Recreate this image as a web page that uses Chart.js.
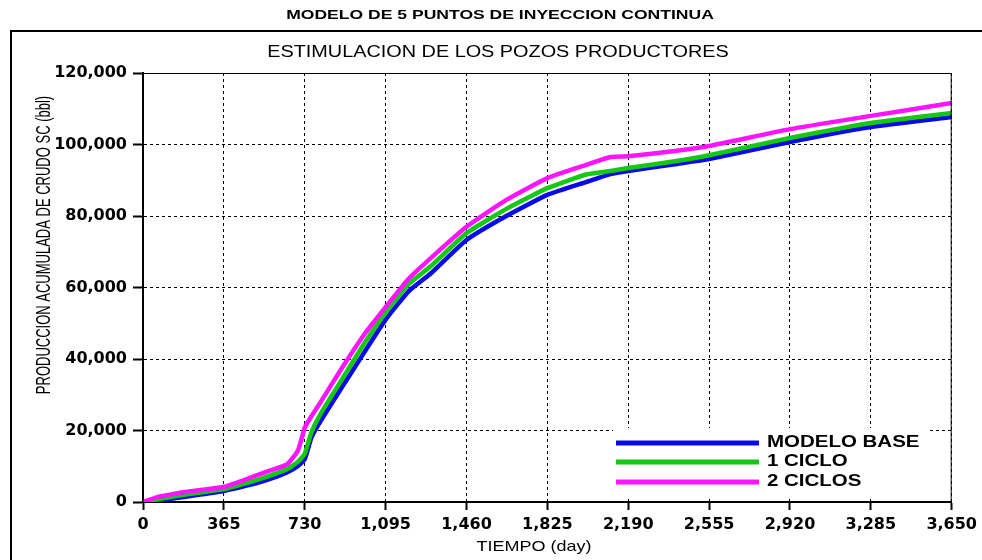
<!DOCTYPE html>
<html>
<head>
<meta charset="utf-8">
<script src="https://cdn.jsdelivr.net/npm/chart.js@4"></script>
<style>
    html, body { margin: 0; padding: 0; background: #fff; }
    #wrap { width: 982px; height: 560px; }
</style>
</head>
<body>
<div id="wrap"><canvas id="cumChart" width="982" height="560"></canvas></div>
<script>
// tiempo (day) en los que se leyeron los valores
const days = [0, 60, 150, 250, 365, 450, 550, 650, 700, 730, 760, 800, 900, 1000, 1095,
    1200, 1300, 1460, 1640, 1825, 2000, 2110, 2190, 2400, 2555, 2920, 3285, 3650];

// produccion acumulada de crudo (bbl)
const modeloBase = [0, 300, 1100, 2000, 3100, 4300, 6000, 8300, 10100, 12000, 18000, 22500, 32300, 42000, 51000,
    59000, 64000, 73300, 80000, 85900, 89500, 91700, 92600, 94500, 95900, 100700, 104900, 107700];
const unCiclo = [0, 700, 1700, 2600, 3600, 5000, 6900, 9200, 11300, 13500, 19500, 24500, 34500, 44500, 53000,
    61000, 66000, 75200, 82000, 87800, 91600, 92600, 93400, 95300, 97000, 101800, 106000, 108800];
const dosCiclos = [0, 1300, 2400, 3300, 4200, 6000, 8300, 10500, 14500, 20800, 24000, 27800, 37700, 47000, 54500,
    62500, 68300, 77000, 84500, 90600, 94300, 96500, 96700, 98200, 99600, 104300, 108000, 111600];

const seriesNames = ['MODELO BASE', '1 CICLO', '2 CICLOS'];
const seriesColors = ['#0a0ae6', '#14c814', '#ff14ff'];

const toPoints = (vals) => days.map((d, i) => ({ x: d, y: vals[i] }));

// textos dibujados a mano (estirados como en el original)
function stretchedText(ctx, txt, x, y, font, sx, align, rotate) {
    ctx.save();
    ctx.translate(x, y);
    ctx.scale(sx, 1);
    if (rotate) ctx.rotate(-Math.PI / 2);
    ctx.font = font;
    ctx.fillStyle = '#000';
    ctx.textAlign = align || 'center';
    ctx.textBaseline = 'middle';
    ctx.fillText(txt, 0, 0);
    ctx.restore();
}

const decorPlugin = {
    id: 'decor',
    afterDraw(chart) {
        const ctx = chart.ctx;
        const area = chart.chartArea;

        // marco exterior
        ctx.save();
        ctx.strokeStyle = '#000';
        ctx.lineWidth = 2;
        ctx.strokeRect(11, 31, 1000, 600);
        // borde del area de grafico
        ctx.lineWidth = 1;
        ctx.strokeRect(area.left, area.top + 0.5, area.right - area.left - 0.5, area.bottom - area.top);
        ctx.restore();

        stretchedText(ctx, 'MODELO DE 5 PUNTOS DE INYECCION CONTINUA', 500, 15, 'bold 13px "Liberation Sans", Arial', 1.35);
        stretchedText(ctx, 'ESTIMULACION DE LOS POZOS PRODUCTORES', 498, 53, '16px "Liberation Sans", Arial', 1.24);
        stretchedText(ctx, 'TIEMPO (day)', 534, 547, '15px "Liberation Sans", Arial', 1.2);
        stretchedText(ctx, 'PRODUCCION ACUMULADA DE CRUDO SC (bbl)', 44, 245, '13px "Liberation Sans", Arial', 1.6, 'center', true);

        // leyenda
        ctx.save();
        ctx.fillStyle = '#fff';
        ctx.fillRect(613, 428, 315, 68);
        const rows = [443, 462, 482];
        rows.forEach((ry, i) => {
            ctx.strokeStyle = seriesColors[i];
            ctx.lineWidth = 5;
            ctx.beginPath();
            ctx.moveTo(616, ry);
            ctx.lineTo(759, ry);
            ctx.stroke();
            stretchedText(ctx, seriesNames[i], 767, ry, 'bold 16px "Liberation Sans", Arial', 1.28, 'left');
        });
        ctx.restore();
    }
};

const tickFont = { family: '"DejaVu Sans"', size: 16, weight: 'bold' };

new Chart(document.getElementById('cumChart').getContext('2d'), {
    type: 'line',
    data: {
        datasets: [
            { label: seriesNames[2], data: toPoints(dosCiclos), borderColor: seriesColors[2], order: 0 },
            { label: seriesNames[1], data: toPoints(unCiclo), borderColor: seriesColors[1], order: 1 },
            { label: seriesNames[0], data: toPoints(modeloBase), borderColor: seriesColors[0], order: 2 },
        ].map(ds => Object.assign(ds, {
            borderWidth: 4.5,
            pointRadius: 0,
            tension: 0.15,
            fill: false,
        })),
    },
    options: {
        responsive: false,
        animation: false,
        layout: { padding: { top: 73, right: 29, left: 0, bottom: 0 } },
        plugins: {
            legend: { display: false },
            tooltip: { enabled: false },
        },
        scales: {
            x: {
                type: 'linear',
                min: 0,
                max: 3650,
                afterFit: (s) => { s.height = 58; },
                afterBuildTicks: (s) => {
                    s.ticks = [];
                    for (let v = 0; v <= 3650; v += 365) s.ticks.push({ value: v });
                },
                ticks: { color: '#000', font: tickFont, padding: 5, maxRotation: 0, autoSkip: false },
                grid: { color: '#000', lineWidth: 1, tickLength: 8, tickWidth: 2 },
                border: { color: '#000', width: 2, dash: [3, 3] },
            },
            y: {
                min: 0,
                max: 120000,
                afterFit: (s) => { s.width = 143; },
                ticks: { stepSize: 20000, color: '#000', font: tickFont, padding: 6 },
                grid: { color: '#000', lineWidth: 1, tickLength: 10, tickWidth: 2 },
                border: { color: '#000', width: 2, dash: [3, 3] },
            },
        },
    },
    plugins: [decorPlugin],
});
</script>
</body>
</html>
